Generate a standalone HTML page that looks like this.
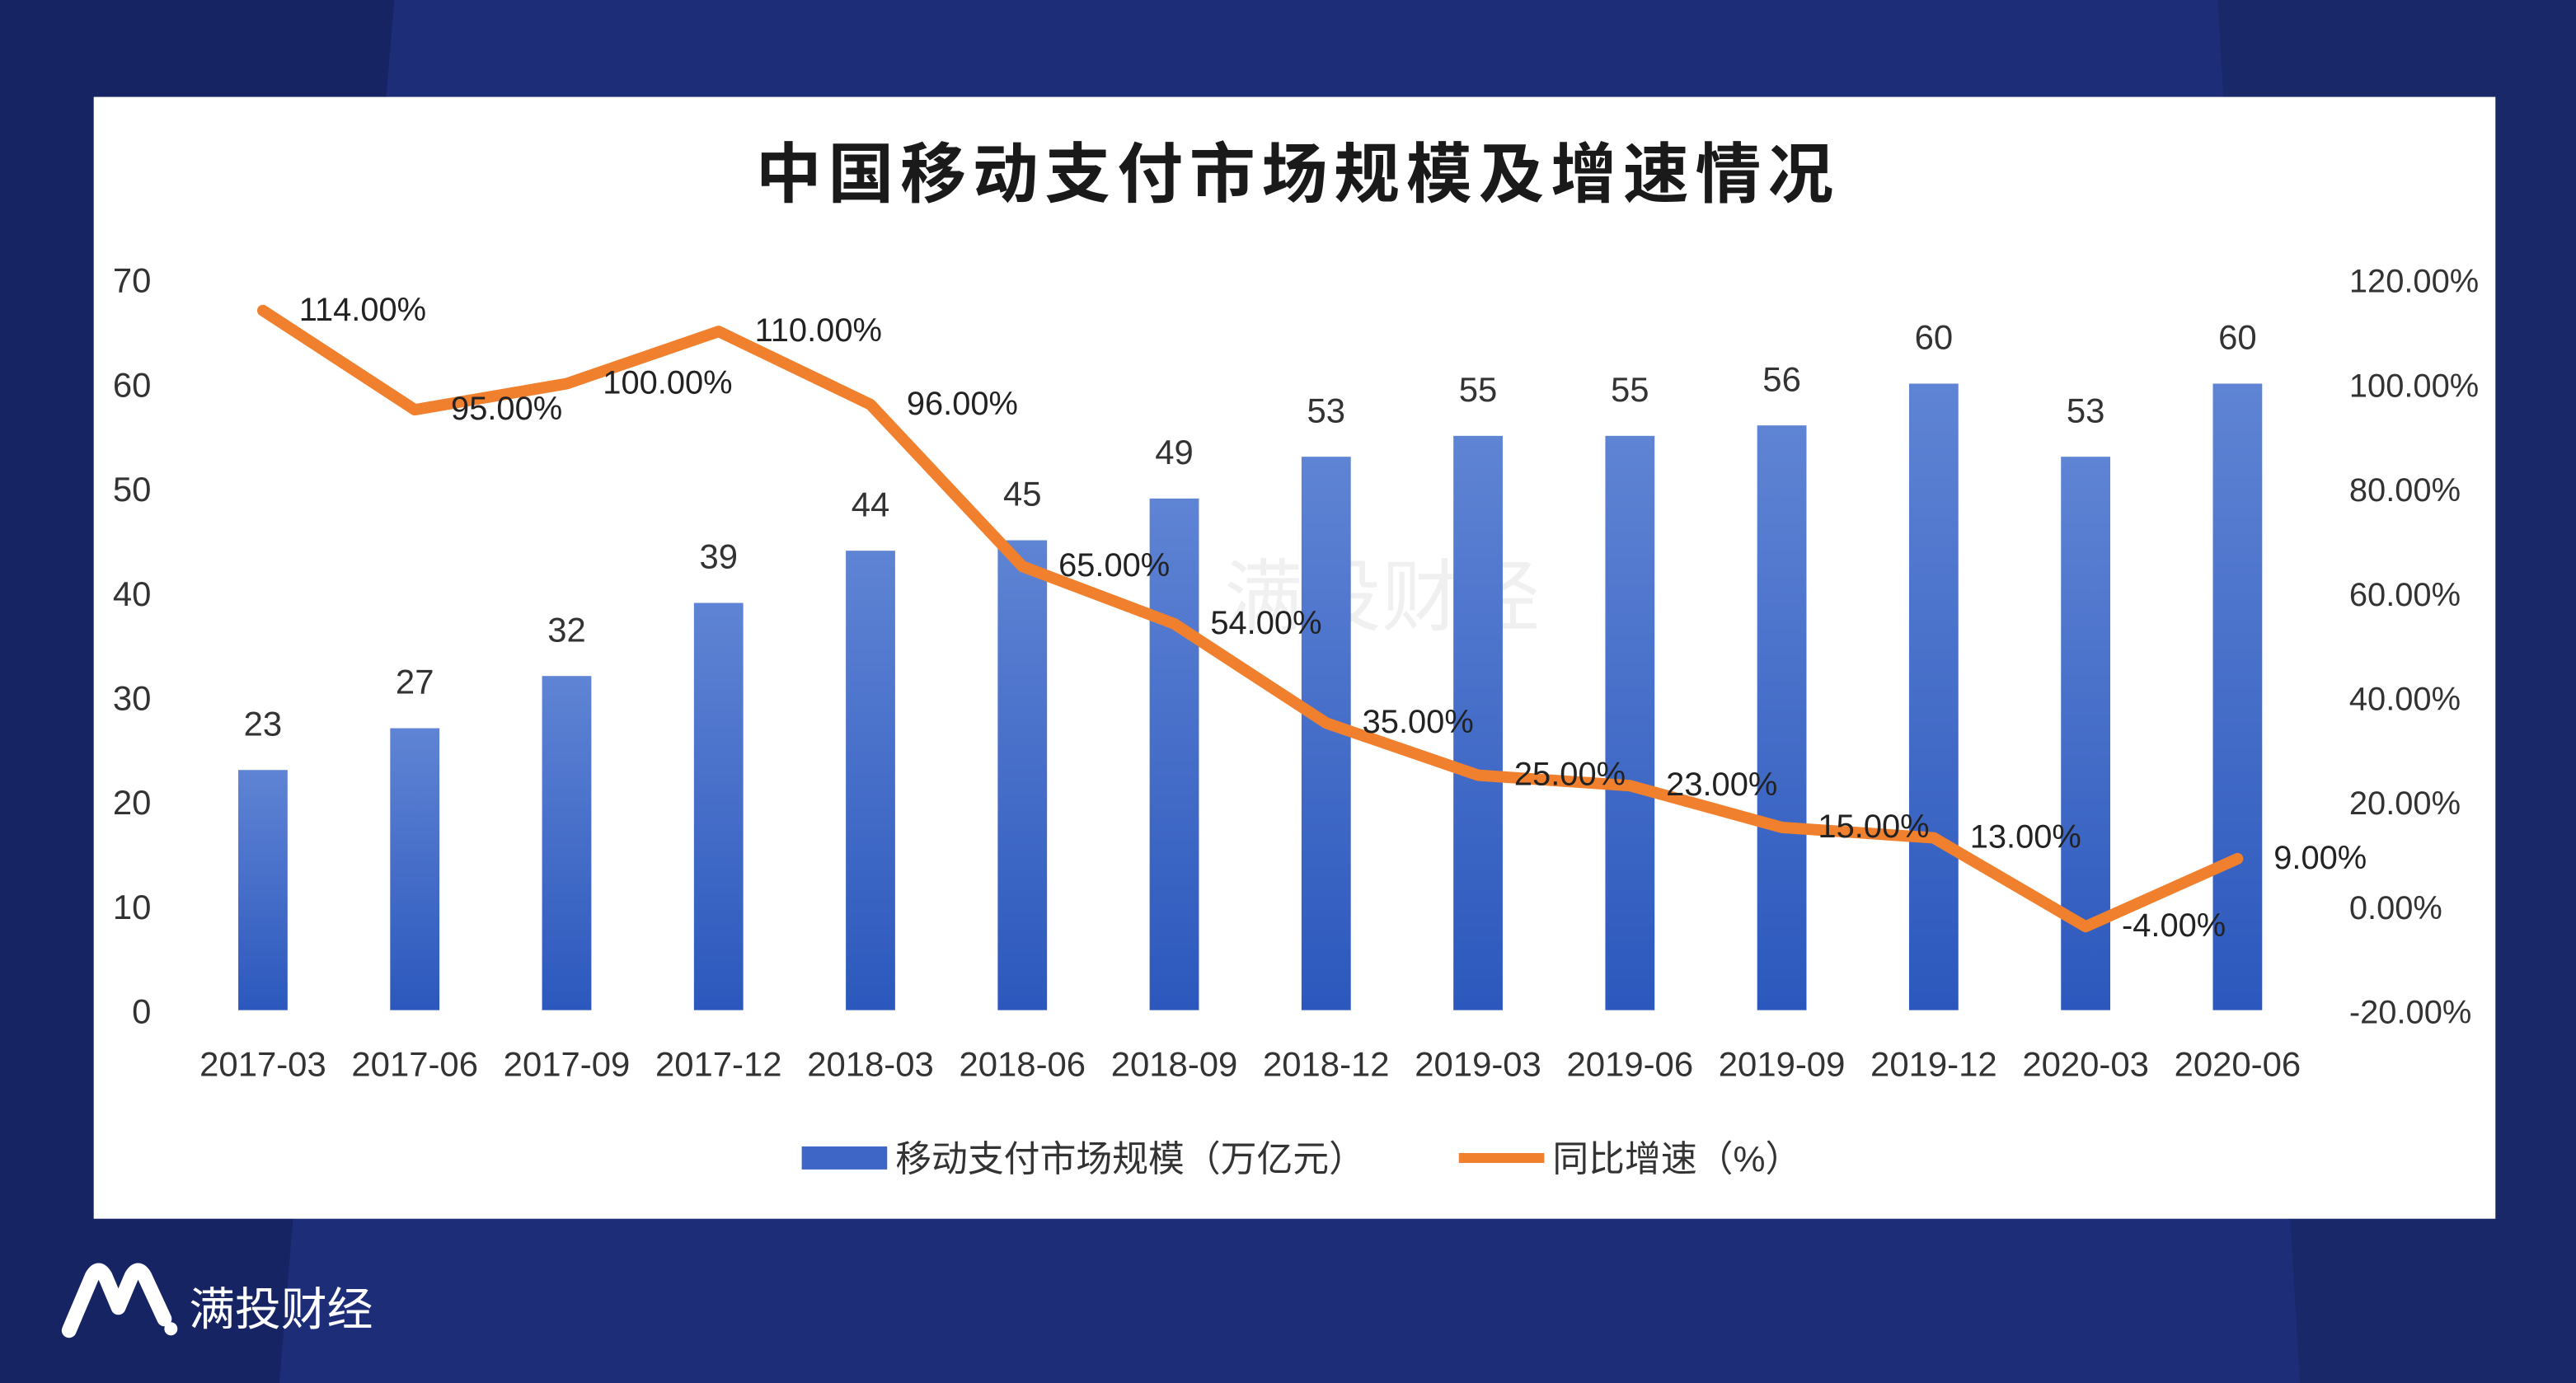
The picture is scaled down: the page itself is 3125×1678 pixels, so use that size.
<!DOCTYPE html>
<html><head><meta charset="utf-8"><style>
html,body{margin:0;padding:0;background:#1d2d78;}
svg{display:block;}
text{font-family:"Liberation Sans","Noto Sans CJK SC",sans-serif;}
</style></head><body>
<svg id="c" width="3125" height="1678" viewBox="0 0 1568 842" xmlns="http://www.w3.org/2000/svg">
<defs>
<linearGradient id="bg" x1="0" y1="0" x2="0" y2="1"><stop offset="0" stop-color="#5f84d4"/><stop offset="1" stop-color="#2c58bd"/></linearGradient>
</defs>
<rect width="1568" height="842" fill="#1d2d78"/>
<path d="M0 0 L240 0 L170 842 L0 842 Z" fill="#172463"/>
<path d="M1350 0 L1568 0 L1568 842 L1400 842 Z" fill="#192868"/>
<rect x="57" y="59" width="1462" height="683" fill="#ffffff"/>
<text x="790" y="120" text-anchor="middle" font-size="40" font-weight="bold" letter-spacing="4" fill="#1a1a1a">中国移动支付市场规模及增速情况</text>
<g id="watermark" opacity="0.12">
<text x="745" y="380" font-size="48" fill="#888">满投财经</text>
</g>
<g id="plot"></g>
<g>
<rect x="488" y="698" width="52" height="14" fill="#3d66c6"/>
<text x="545" y="713" font-size="22" fill="#333">移动支付市场规模（万亿元）</text>
<line x1="888" y1="705" x2="940" y2="705" stroke="#f0802d" stroke-width="6"/>
<text x="945" y="713" font-size="22" fill="#333">同比增速（%）</text>
</g>
<g>
<path d="M42 810 L56 777 Q60 770 64 777 L72 796 L80 777 Q84 770 88 777 L100 803" stroke="#fff" stroke-width="9" fill="none" stroke-linecap="round" stroke-linejoin="round"/>
<circle cx="104" cy="809" r="4" fill="#fff"/>
<text x="115" y="807" font-size="28" fill="#fff">满投财经</text>
</g>
</svg>
<script>
const categories=["2017-03","2017-06","2017-09","2017-12","2018-03","2018-06","2018-09","2018-12","2019-03","2019-06","2019-09","2019-12","2020-03","2020-06"];
const scaleValues=[23,27,32,39,44,45,49,53,55,55,56,60,53,60];
const growthValues=[114,95,100,110,96,65,54,35,25,23,15,13,-4,9];
const leftTicks=[0,10,20,30,40,50,60,70];
const rightTicks=[-20,0,20,40,60,80,100,120];

const NS="http://www.w3.org/2000/svg";
const g=document.getElementById('plot');
const x=i=>160+i*(1362-160)/(categories.length-1);
const yL=v=>615-v*(615-170)/70;
const yR=v=>615-(v+20)*(615-170)/140;
function mk(tag,attrs,txt){const e=document.createElementNS(NS,tag);for(const k in attrs)e.setAttribute(k,attrs[k]);if(txt!==undefined)e.textContent=txt;g.appendChild(e);return e;}

leftTicks.forEach(t=>{
 const e=mk('text',{x:92,y:yL(t)+8,'text-anchor':'end','font-size':21,fill:'#333'},String(t));
 
 
});
rightTicks.forEach(t=>{
 const e=mk('text',{x:1430,y:yR(t)+8,'font-size':20,fill:'#333'},t.toFixed(2)+'%');
 
 
});
categories.forEach((c,i)=>{
 const e=mk('text',{x:x(i),y:655,'text-anchor':'middle','font-size':21,fill:'#333'},c);
 
 
});
scaleValues.forEach((v,i)=>{
 const b=mk('rect',{x:x(i)-15,y:yL(v),width:30,height:yL(0)-yL(v),fill:'url(#bg)'});
 
 
 const l=mk('text',{x:x(i),y:yL(v)-21,'text-anchor':'middle','font-size':21,fill:'#333'},String(v));
 
 
});
const pts=growthValues.map((v,i)=>x(i)+','+yR(v)).join(' ');
const pl=mk('polyline',{points:pts,fill:'none',stroke:'#f0802d','stroke-width':7,'stroke-linejoin':'round','stroke-linecap':'round'});


growthValues.forEach((v,i)=>{
 const l=mk('text',{x:x(i)+22,y:yR(v)+6,'font-size':20,fill:'#222'},v.toFixed(2)+'%');
 
 
});
</script>
</body></html>
